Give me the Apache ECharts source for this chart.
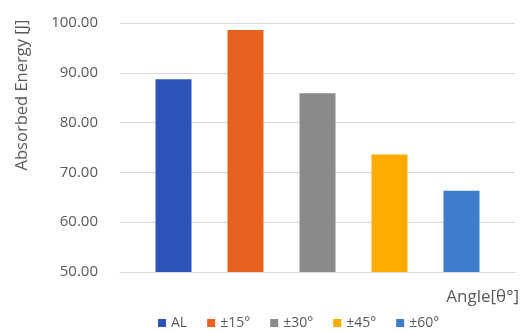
<!DOCTYPE html>
<html>
<head>
<meta charset="utf-8">
<script src="https://cdn.jsdelivr.net/npm/echarts@6/dist/echarts.min.js"></script>
<style>
  html, body { margin: 0; padding: 0; background: #fff; }
  #chart { width: 526px; height: 331px; }
</style>
</head>
<body>
<div id="chart"></div>
<script>
// data
const angles = ['AL', '±15°', '±30°', '±45°', '±60°'];
const energy = [88.7, 98.6, 85.9, 73.6, 66.3];
const colors = ['#2D54B8', '#E8621F', '#8A8A8A', '#FFAB00', '#3D7DCC'];

const chart = echarts.init(document.getElementById('chart'));

const series = angles.map((name, i) => ({
    name: name,
    type: 'bar',
    data: [energy[i]],
    barWidth: 36,
    barGap: '100%',
    itemStyle: { color: colors[i] },
}));

chart.setOption({
    animation: false,
    textStyle: { fontFamily: 'Open Sans' },
    grid: { left: 120, right: 11, top: 23, bottom: 59 },
    legend: {
        data: angles,
        left: 153,
        top: 311,
        icon: 'rect',
        itemWidth: 8,
        itemHeight: 8,
        itemGap: 20,
        textStyle: { color: '#595959', fontSize: 14, fontFamily: 'Open Sans' },
    },
    graphic: [
        {
            type: 'text',
            x: 22,
            y: 95,
            rotation: Math.PI / 2,
            style: {
                text: 'Absorbed Energy [J]',
                fill: '#595959',
                font: '16.5px "Open Sans"',
                align: 'center',
                verticalAlign: 'middle',
            },
        },
        {
            type: 'text',
            x: 519,
            y: 297,
            style: {
                text: 'Angle[θ°]',
                fill: '#595959',
                font: '17px "Open Sans"',
                align: 'right',
                verticalAlign: 'middle',
            },
        },
    ],
    xAxis: {
        type: 'category',
        data: [''],
        axisLine: { show: true, lineStyle: { color: '#D9D9D9' } },
        axisTick: { show: false },
        axisLabel: { show: false },
    },
    yAxis: {
        type: 'value',
        min: 50,
        max: 100,
        interval: 10,
        axisLine: { show: false },
        axisTick: { show: false },
        axisLabel: {
            color: '#595959',
            fontSize: 15,
            margin: 22,
            formatter: v => v.toFixed(2),
        },
        splitLine: { lineStyle: { color: '#D9D9D9', width: 1 } },
    },
    series: series,
});
</script>
</body>
</html>
